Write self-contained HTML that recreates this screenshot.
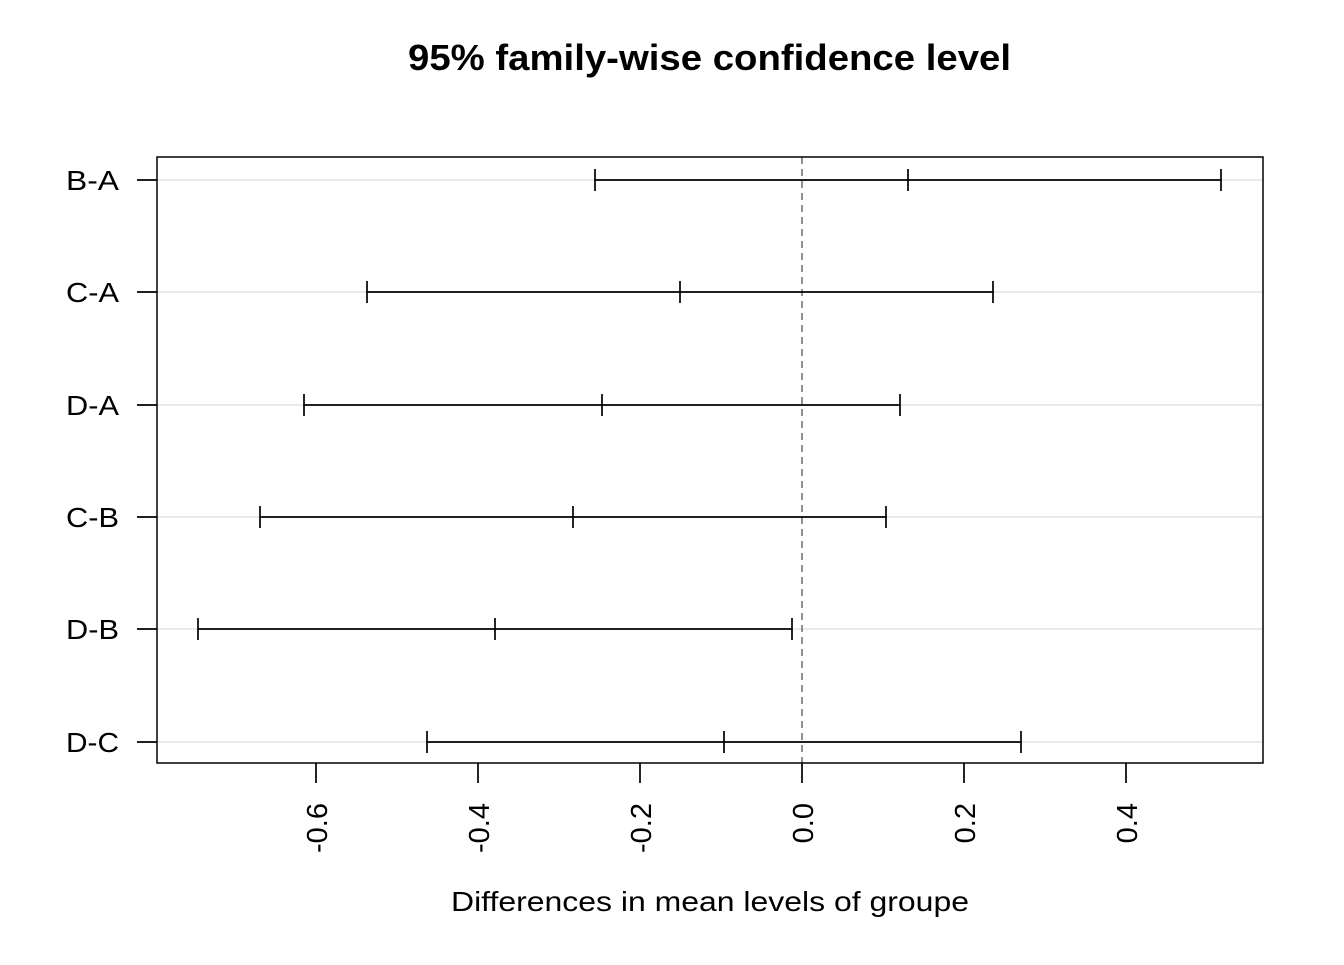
<!DOCTYPE html>
<html><head><style>body{margin:0;background:#fff}</style></head><body>
<svg width="1344" height="960" xmlns="http://www.w3.org/2000/svg" font-family="Liberation Sans, Arial, sans-serif">
<rect width="1344" height="960" fill="#fff"/>
<text x="408" y="70" font-size="36" font-weight="bold" textLength="603" lengthAdjust="spacingAndGlyphs">95% family-wise confidence level</text>
<g stroke="#d3d3d3" stroke-width="1">
<line x1="157" x2="1263" y1="180" y2="180"/><line x1="157" x2="1263" y1="292" y2="292"/>
<line x1="157" x2="1263" y1="405" y2="405"/><line x1="157" x2="1263" y1="517" y2="517"/>
<line x1="157" x2="1263" y1="629" y2="629"/><line x1="157" x2="1263" y1="742" y2="742"/>
</g>
<line x1="802" x2="802" y1="157" y2="763" stroke="#555" stroke-width="1.3" stroke-dasharray="7,5"/>
<rect x="157" y="157" width="1106" height="606" fill="none" stroke="#000" stroke-width="1.5"/>
<g stroke="#000" stroke-width="1.7">
<path d="M595 180H1221M595 169V191M908 169V191M1221 169V191"/>
<path d="M367 292H993M367 281V303M680 281V303M993 281V303"/>
<path d="M304 405H900M304 394V416M602 394V416M900 394V416"/>
<path d="M260 517H886M260 506V528M573 506V528M886 506V528"/>
<path d="M198 629H792M198 618V640M495 618V640M792 618V640"/>
<path d="M427 742H1021M427 731V753M724 731V753M1021 731V753"/>
<path d="M137 180H157M137 292H157M137 405H157M137 517H157M137 629H157M137 742H157"/>
<path d="M316 763V783M478 763V783M640 763V783M802 763V783M964 763V783M1126 763V783"/>
</g>
<g font-size="28">
<text x="66" y="190" textLength="53" lengthAdjust="spacingAndGlyphs">B-A</text>
<text x="66" y="302" textLength="53" lengthAdjust="spacingAndGlyphs">C-A</text>
<text x="66" y="415" textLength="53" lengthAdjust="spacingAndGlyphs">D-A</text>
<text x="66" y="527" textLength="53" lengthAdjust="spacingAndGlyphs">C-B</text>
<text x="66" y="639" textLength="53" lengthAdjust="spacingAndGlyphs">D-B</text>
<text x="66" y="752" textLength="53" lengthAdjust="spacingAndGlyphs">D-C</text>
</g>
<g font-size="29" text-anchor="end">
<text transform="translate(327,803) rotate(-90)">-0.6</text>
<text transform="translate(489,803) rotate(-90)">-0.4</text>
<text transform="translate(651,803) rotate(-90)">-0.2</text>
<text transform="translate(813,803) rotate(-90)">0.0</text>
<text transform="translate(975,803) rotate(-90)">0.2</text>
<text transform="translate(1137,803) rotate(-90)">0.4</text>
</g>
<text x="451" y="911" font-size="28" textLength="518" lengthAdjust="spacingAndGlyphs">Differences in mean levels of groupe</text>
</svg>
</body></html>
